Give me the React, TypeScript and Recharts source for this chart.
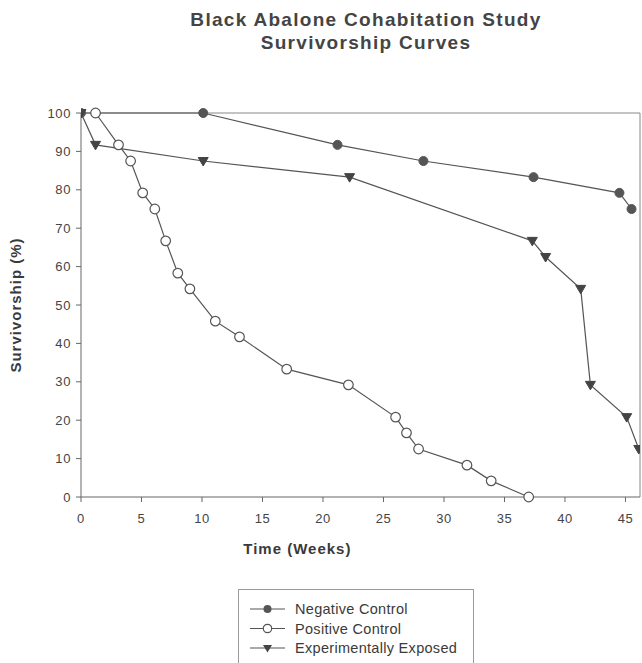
import React from "react";
import {
  LineChart,
  Line,
  XAxis,
  YAxis,
  Legend,
  ReferenceLine,
} from "recharts";

const seriesNames = ["Negative Control", "Positive Control", "Experimentally Exposed"];

const weeksNeg = [0, 10.1, 21.2, 28.3, 37.4, 44.5, 45.5];
const survNeg = [100, 100, 91.7, 87.5, 83.3, 79.2, 75];

const weeksPos = [1.2, 3.1, 4.1, 5.1, 6.1, 7.0, 8.0, 9.0, 11.1, 13.1, 17.0, 22.1, 26.0, 26.9, 27.9, 31.9, 33.9, 37.0];
const survPos = [100, 91.7, 87.5, 79.2, 75, 66.7, 58.3, 54.2, 45.8, 41.7, 33.3, 29.2, 20.8, 16.7, 12.5, 8.3, 4.2, 0];

const weeksExp = [0, 1.2, 10.1, 22.2, 37.3, 38.4, 41.3, 42.1, 45.1, 46.1];
const survExp = [100, 91.7, 87.5, 83.3, 66.7, 62.5, 54.2, 29.2, 20.8, 12.5];

const xTicks = [0, 5, 10, 15, 20, 25, 30, 35, 40, 45];
const yTicks = [0, 10, 20, 30, 40, 50, 60, 70, 80, 90, 100];
const xMax = 46.2;

const toRows = (xs: number[], ys: number[]) => xs.map((w, i) => ({ week: w, surv: ys[i] }));
const negRows = toRows(weeksNeg, survNeg);
const posRows = toRows(weeksPos, survPos);
const expRows = toRows(weeksExp, survExp);

const FONT = "'Liberation Sans', Arial, sans-serif";
const INK = "#555";
const TEXT = "#3a3a3a";

const FilledDot = (p: any) => (
  <circle key={`n-${p.index}`} cx={p.cx} cy={p.cy} r={4.5} fill={INK} stroke={INK} />
);
const OpenDot = (p: any) => (
  <circle key={`p-${p.index}`} cx={p.cx} cy={p.cy} r={4.8} fill="#fff" stroke={INK} strokeWidth={1.2} />
);
const TriDot = (p: any) => (
  <path
    key={`e-${p.index}`}
    d={`M${p.cx - 5},${p.cy - 3.5} L${p.cx + 5},${p.cy - 3.5} L${p.cx},${p.cy + 5} Z`}
    fill="#444"
    stroke="#444"
  />
);

const markerFor = (name: string, cx: number, cy: number) => {
  if (name === seriesNames[0]) return <circle cx={cx} cy={cy} r={4} fill={INK} />;
  if (name === seriesNames[1]) return <circle cx={cx} cy={cy} r={4.2} fill="#fff" stroke={INK} strokeWidth={1.2} />;
  return <path d={`M${cx - 4.5},${cy - 3} L${cx + 4.5},${cy - 3} L${cx},${cy + 4.5} Z`} fill="#444" />;
};

const LegendBox = (props: any) => {
  const items = [...(props.payload || [])].sort(
    (a: any, b: any) => seriesNames.indexOf(a.value) - seriesNames.indexOf(b.value)
  );
  return (
    <svg width={236} height={80} style={{ display: "block" }}>
      <rect x={0.5} y={0.5} width={235} height={90} fill="#fff" stroke="#999" />
      {items.map((it: any, i: number) => {
        const y = 20 + i * 19.5;
        return (
          <g key={it.value}>
            <line x1={12} x2={47} y1={y} y2={y} stroke={INK} strokeWidth={1.2} />
            {markerFor(it.value, 29.5, y)}
            <text x={57} y={y + 5} fontSize={14.5} fontFamily={FONT} fill={TEXT} letterSpacing={0.3}>
              {it.value}
            </text>
          </g>
        );
      })}
    </svg>
  );
};

const XLabel = (props: any) => {
  const vb = props.viewBox;
  return (
    <text
      x={vb.x + vb.width * 0.387}
      y={vb.y + 57}
      textAnchor="middle"
      fontSize={15}
      fontWeight="bold"
      fontFamily={FONT}
      fill={TEXT}
      letterSpacing={1}
    >
      Time (Weeks)
    </text>
  );
};

const YLabel = (props: any) => {
  const vb = props.viewBox;
  const cx = 21;
  const cy = vb.y + vb.height / 2;
  return (
    <text
      x={cx}
      y={cy}
      transform={`rotate(-90 ${cx} ${cy})`}
      textAnchor="middle"
      fontSize={15}
      fontWeight="bold"
      fontFamily={FONT}
      fill={TEXT}
      letterSpacing={1}
    >
      Survivorship (%)
    </text>
  );
};

const tickStyle = { fontSize: 13, fill: "#444", fontFamily: FONT, letterSpacing: 0.6 };

export default function App() {
  return (
    <div style={{ position: "absolute", left: 0, top: 0, width: 642, height: 663, background: "#fff", overflow: "hidden" }}>
      <div
        style={{
          position: "absolute",
          left: 116,
          top: 8,
          width: 500,
          textAlign: "center",
          fontFamily: FONT,
          fontWeight: "bold",
          fontSize: 19,
          lineHeight: "23px",
          letterSpacing: 1.3,
          color: "#444",
        }}
      >
        Black Abalone Cohabitation Study
        <br />
        Survivorship Curves
      </div>
      <LineChart width={642} height={663} margin={{ top: 113, right: 2, left: 0, bottom: 136 }}>
        <XAxis
          type="number"
          dataKey="week"
          domain={[0, xMax]}
          ticks={xTicks}
          allowDataOverflow
          height={30}
          stroke="#666"
          tickSize={5}
          tickMargin={12}
          tick={tickStyle}
          label={<XLabel />}
        />
        <YAxis
          type="number"
          dataKey="surv"
          domain={[0, 100]}
          ticks={yTicks}
          width={81}
          stroke="#666"
          tickSize={5}
          tickMargin={5}
          tick={tickStyle}
          label={<YLabel />}
        />
        <ReferenceLine y={100} stroke="#888" strokeWidth={1} />
        <ReferenceLine x={xMax} stroke="#888" strokeWidth={1} />
        <Line
          name={seriesNames[0]}
          data={negRows}
          dataKey="surv"
          stroke={INK}
          strokeWidth={1.2}
          dot={FilledDot}
          isAnimationActive={false}
        />
        <Line
          name={seriesNames[1]}
          data={posRows}
          dataKey="surv"
          stroke={INK}
          strokeWidth={1.2}
          dot={OpenDot}
          isAnimationActive={false}
        />
        <Line
          name={seriesNames[2]}
          data={expRows}
          dataKey="surv"
          stroke={INK}
          strokeWidth={1.2}
          dot={TriDot}
          isAnimationActive={false}
        />
        <Legend
          layout="vertical"
          align="center"
          verticalAlign="middle"
          content={<LegendBox />}
          wrapperStyle={{ left: 238, top: 589, width: 236, height: 80 }}
        />
      </LineChart>
    </div>
  );
}
